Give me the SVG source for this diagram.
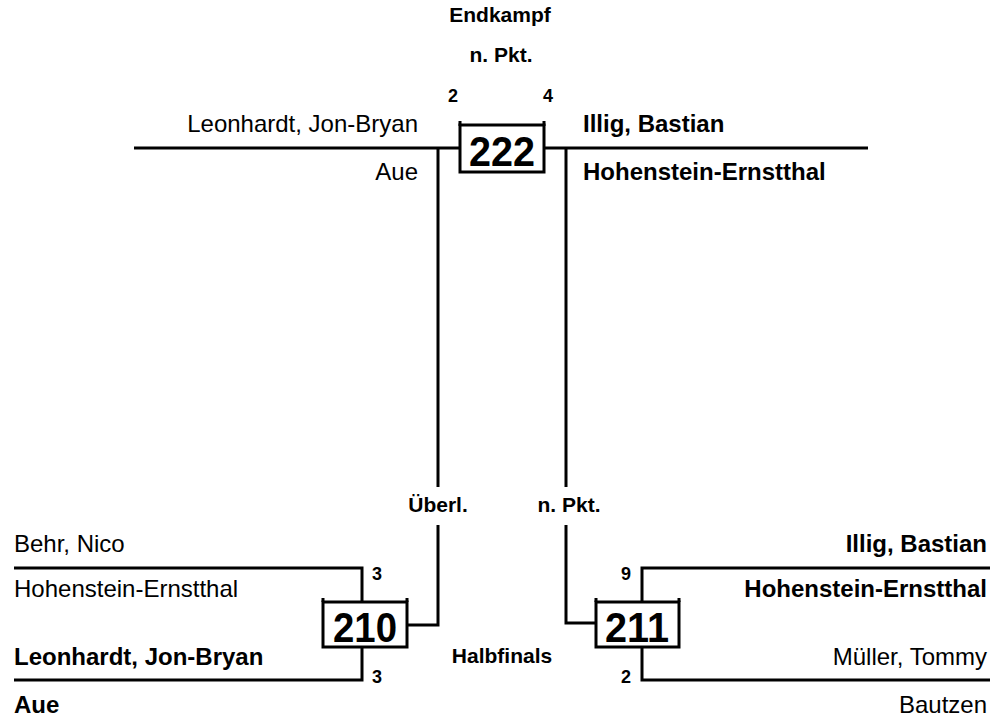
<svg xmlns="http://www.w3.org/2000/svg" width="991" height="721" viewBox="0 0 991 721">
<style>
.bg{fill:#fff}
.ln{fill:none;stroke:#000;stroke-width:3}
.box{fill:#fff;stroke:#000;stroke-width:3}
.nm{font-family:"Liberation Sans",Arial,sans-serif;font-size:24px;fill:#000}
.b{font-weight:bold}
.lb{font-family:"Liberation Sans",Arial,sans-serif;font-size:21px;font-weight:bold;fill:#000}
.sc{font-family:"Liberation Sans",Arial,sans-serif;font-size:18px;font-weight:bold;fill:#000}
.num{font-family:"Liberation Sans",Arial,sans-serif;font-size:42px;font-weight:bold;fill:#000;text-anchor:middle}
.c{text-anchor:middle}
.e{text-anchor:end}
</style>
<rect class="bg" width="991" height="721"/>
<g id="connectors">
<path class="ln" d="M134 148H460M544 148H868"/>
<path class="ln" d="M438 148V487M566 148V487"/>
<path class="ln" d="M438 525V625H407"/>
<path class="ln" d="M566 525V623H596"/>
<path class="ln" d="M14 568H362V602M362 647V680H14"/>
<path class="ln" d="M990 568H642V602M642 647V680H990"/>
<path class="ln" d="M460 121V126M544 121V126M323 598V602M407 598V602M596 598V602M679 598V602"/>
</g>
<g id="labels">
<text class="lb c" x="500" y="22">Endkampf</text>
<text class="lb c" x="501" y="62">n. Pkt.</text>
<text class="sc c" x="453" y="102">2</text>
<text class="sc c" x="548" y="102">4</text>
<text class="lb c" x="438" y="512">Überl.</text>
<text class="lb c" x="569" y="512">n. Pkt.</text>
<text class="lb c" x="502" y="663">Halbfinals</text>
</g>
<g id="n222">
<rect class="box" x="460" y="125" width="84" height="47"/>
<text class="num" x="502" y="166" textLength="66" lengthAdjust="spacingAndGlyphs">222</text>
<text class="nm e" x="418" y="132">Leonhardt, Jon-Bryan</text>
<text class="nm e" x="418" y="180">Aue</text>
<text class="nm b" x="583" y="132">Illig, Bastian</text>
<text class="nm b" x="583" y="180">Hohenstein-Ernstthal</text>
</g>
<g id="n210">
<rect class="box" x="323" y="602" width="84" height="45"/>
<text class="num" x="365" y="642" textLength="64" lengthAdjust="spacingAndGlyphs">210</text>
<text class="sc c" x="377" y="580">3</text>
<text class="sc c" x="377" y="683">3</text>
<text class="nm" x="14" y="552">Behr, Nico</text>
<text class="nm" x="14" y="597">Hohenstein-Ernstthal</text>
<text class="nm b" x="14" y="665">Leonhardt, Jon-Bryan</text>
<text class="nm b" x="14" y="713">Aue</text>
</g>
<g id="n211">
<rect class="box" x="596" y="602" width="83" height="45"/>
<text class="num" x="637" y="642" textLength="64" lengthAdjust="spacingAndGlyphs">211</text>
<text class="sc c" x="626" y="580">9</text>
<text class="sc c" x="626" y="683">2</text>
<text class="nm b e" x="987" y="552">Illig, Bastian</text>
<text class="nm b e" x="987" y="597">Hohenstein-Ernstthal</text>
<text class="nm e" x="987" y="665">Müller, Tommy</text>
<text class="nm e" x="987" y="713">Bautzen</text>
</g>
</svg>
